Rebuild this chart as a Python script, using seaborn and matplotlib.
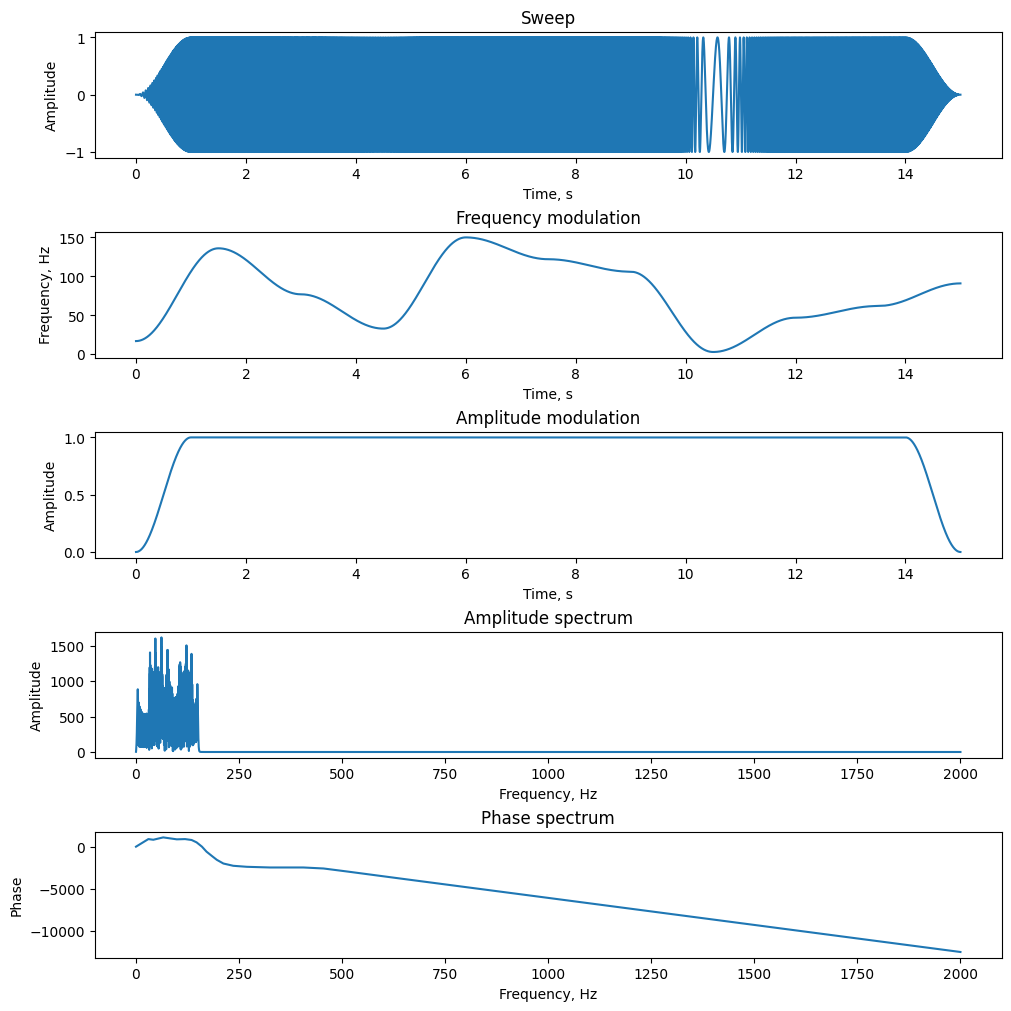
import numpy as np
import matplotlib
matplotlib.use("Agg")
import matplotlib.pyplot as plt
import seaborn as sns

# sampling
fs = 4000
duration = 15

# frequency modulation knots (s, Hz)
freq_knot_t = [0, 1.5, 3, 4.5, 6, 7.5, 9, 10.5, 12, 13.5, 15]
freq_knot_hz = [17, 136, 77, 33, 150, 122, 106, 3, 47, 62, 91]

# amplitude modulation knots (s, amplitude)
amp_knot_t = [0, 1, 14, 15]
amp_knot_val = [0, 1, 1, 0]

# phase spectrum (Hz, phase)
phase_freq = [0, 30, 42, 66, 99, 119, 135, 147, 160, 171, 184, 196, 212,
              236, 269, 325, 406, 455, 511, 641, 1000, 1500, 2000]
phase_vals = [0, 900, 820, 1100, 870, 900, 790, 510, 0, -590, -1100, -1560, -2000,
              -2270, -2390, -2470, -2470, -2590, -2940, -3780, -6080, -9290, -12500]


def cosine_interp(t, knots_t, knots_v):
    """smooth (cosine) interpolation between knots, flat at every knot"""
    knots_t = np.asarray(knots_t, dtype=float)
    knots_v = np.asarray(knots_v, dtype=float)
    idx = np.clip(np.searchsorted(knots_t, t, side="right") - 1, 0, len(knots_t) - 2)
    t0, t1 = knots_t[idx], knots_t[idx + 1]
    v0, v1 = knots_v[idx], knots_v[idx + 1]
    s = np.clip((t - t0) / (t1 - t0), 0, 1)
    return v0 + (v1 - v0) * (1 - np.cos(np.pi * s)) / 2


t = np.arange(duration * fs) / fs
freq = cosine_interp(t, freq_knot_t, freq_knot_hz)
amp = cosine_interp(t, amp_knot_t, amp_knot_val)
sweep = amp * np.sin(2 * np.pi * np.cumsum(freq) / fs)

spec = np.fft.rfft(sweep)
spec_f = np.fft.rfftfreq(len(sweep), 1 / fs)
spec_amp = np.abs(spec)

fig, axes = plt.subplots(5, 1, figsize=(10, 10), dpi=100, layout="constrained")

panels = [
    (t, sweep, "Sweep", "Time, s", "Amplitude"),
    (t, freq, "Frequency modulation", "Time, s", "Frequency, Hz"),
    (t, amp, "Amplitude modulation", "Time, s", "Amplitude"),
    (spec_f, spec_amp, "Amplitude spectrum", "Frequency, Hz", "Amplitude"),
    (np.array(phase_freq), np.array(phase_vals), "Phase spectrum", "Frequency, Hz", "Phase"),
]

for ax, (x, y, title, xlabel, ylabel) in zip(axes, panels):
    sns.lineplot(x=x, y=y, ax=ax, estimator=None, errorbar=None, sort=False)
    ax.set_title(title)
    ax.set_xlabel(xlabel)
    ax.set_ylabel(ylabel)

plt.savefig("out.png", dpi=100, bbox_inches="tight")
